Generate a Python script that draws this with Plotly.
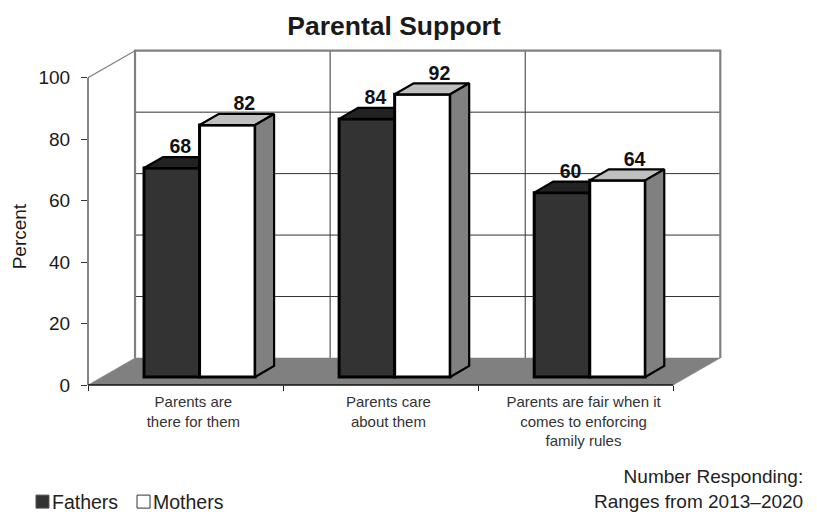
import numpy as np
import plotly.graph_objects as go

categories = ["Parents are<br>there for them", "Parents care<br>about them",
              "Parents are fair when it<br>comes to enforcing<br>family rules"]
fathers = [68, 84, 60]
mothers = [82, 92, 64]
y_ticks = [0, 20, 40, 60, 80, 100]
title = "Parental Support"
y_title = "Percent"
note = "Number Responding:<br>Ranges from 2013–2020"

W, H = 817, 512
FONT = "Liberation Sans"
PX_X, PX_Y = 195.0, 3.07          # pixels per category / per percent
LEFT, BOTTOM = 88, 385            # pixel position of the front axes corner
X0 = -0.5
XMAX = 2.76
YMAX = 110.0
WALL_DX, WALL_DY = 47 / PX_X, 27 / PX_Y
BASE_DX, BASE_DY = 14 / PX_X, 8 / PX_Y
DEPTH_DX, DEPTH_DY = 19 / PX_X, 11 / PX_Y
BAR_W = 55.5 / PX_X
F_OFF = -41.5 / PX_X
M_OFF = 14 / PX_X
GREY = "#808080"
GRID = "#333333"
pos = np.arange(len(categories), dtype=float)
ntop = pos[-1] + 0.5

fig = go.Figure()


def poly(xs, ys, fill, line, width, xa="x", ya="y"):
    fig.add_trace(go.Scatter(x=xs, y=ys, mode="lines", fill="toself", fillcolor=fill,
                             line=dict(color=line, width=width), hoverinfo="skip",
                             showlegend=False, xaxis=xa, yaxis=ya))


def seg(xs, ys, color, width):
    fig.add_trace(go.Scatter(x=xs, y=ys, mode="lines", line=dict(color=color, width=width),
                             hoverinfo="skip", showlegend=False, xaxis="x", yaxis="y"))


wl, wr = X0 + WALL_DX, ntop + WALL_DX
# inner grid on the back wall
for t in y_ticks[1:-1]:
    seg([wl, wr], [t + WALL_DY, t + WALL_DY], GRID, 1)
for b in pos[:-1] + 0.5:
    seg([b + WALL_DX, b + WALL_DX], [WALL_DY, 100 + WALL_DY], GRID, 1)
# wall frame and the diagonal on top of the side wall
seg([X0, wl, wl], [100, 100 + WALL_DY, WALL_DY], GREY, 1.2)
seg([wl, wl, wr, wr], [WALL_DY, 100 + WALL_DY, 100 + WALL_DY, WALL_DY], GREY, 2.2)
# floor
poly([X0, wl, wr, ntop, X0], [0, WALL_DY, WALL_DY, 0, 0], GREY, GREY, 0.5)


def series(name, vals, off, fill, top_fill, side_fill, xa, ya):
    vals = np.array(vals, dtype=float)
    fig.add_trace(go.Bar(name=name, x=pos, y=vals, base=BASE_DY, offset=off,
                         width=BAR_W, marker=dict(color=fill, line=dict(color="black", width=3)),
                         showlegend=False, xaxis=xa, yaxis=ya))
    for p, v in zip(pos, vals):
        l, r = p + off, p + off + BAR_W
        t = v + BASE_DY
        poly([l, r, r + DEPTH_DX, l + DEPTH_DX, l], [t, t, t + DEPTH_DY, t + DEPTH_DY, t],
             top_fill, "black", 2.2, xa, ya)
        poly([r, r + DEPTH_DX, r + DEPTH_DX, r, r],
             [BASE_DY, BASE_DY + DEPTH_DY, t + DEPTH_DY, t, BASE_DY],
             side_fill, "black", 2.2, xa, ya)


series("Fathers", fathers, F_OFF, "#333333", "#222222", GREY, "x2", "y2")
series("Mothers", mothers, M_OFF, "#ffffff", "#bfbfbf", GREY, "x3", "y3")

# value labels
for vals, off, extra in ((fathers, F_OFF, 8.5 / PX_X), (mothers, M_OFF, 17 / PX_X)):
    fig.add_trace(go.Scatter(x=pos + off + BAR_W / 2 + extra,
                             y=np.array(vals) + BASE_DY + DEPTH_DY - 0.4,
                             mode="text", text=[str(v) for v in vals], textposition="top center",
                             textfont=dict(family=FONT, size=19.5, color="#111111", weight="bold"),
                             hoverinfo="skip", showlegend=False, cliponaxis=False,
                             xaxis="x3", yaxis="y3"))

x_range = [X0, XMAX]
y_range = [0, YMAX]
plot_w = (XMAX - X0) * PX_X
plot_h = YMAX * PX_Y
hidden = dict(visible=False, fixedrange=True)

layout = dict(
    width=W, height=H, autosize=False,
    paper_bgcolor="white", plot_bgcolor="white",
    margin=dict(l=LEFT, r=W - LEFT - plot_w, t=BOTTOM - plot_h, b=H - BOTTOM, pad=0),
    showlegend=False, barmode="overlay",
    font=dict(family=FONT, color="#222222"),
    title=dict(text=title, x=394 / W, xanchor="center", y=1 - 26 / H, yanchor="middle",
               font=dict(family=FONT, size=26.5, color="#1a1a1a", weight="bold")),
    xaxis=dict(range=x_range, showgrid=False, zeroline=False, showline=False,
               tickmode="array", tickvals=pos + 0.04, ticktext=categories, ticks="",
               ticklabelstandoff=6,
               tickfont=dict(family=FONT, size=15, color="#333333"),
               minor=dict(tickmode="array", tickvals=list(pos - 0.5) + [ntop], ticks="outside",
                          ticklen=5, tickwidth=1, tickcolor="#222222", showgrid=False)),
    yaxis=dict(range=y_range, showgrid=False, zeroline=False, showline=False,
               tickmode="array", tickvals=y_ticks, ticks="outside", ticklen=6, tickwidth=1,
               tickcolor="#333333", ticklabelstandoff=7,
               tickfont=dict(family=FONT, size=19, color="#1a1a1a")),
    xaxis2=dict(range=x_range, overlaying="x", **hidden),
    yaxis2=dict(range=y_range, overlaying="y", **hidden),
    xaxis3=dict(range=x_range, overlaying="x", **hidden),
    yaxis3=dict(range=y_range, overlaying="y", **hidden),
    shapes=[
        dict(type="line", xref="paper", x0=0, x1=0, yref="y", y0=0, y1=100,
             line=dict(color="#333333", width=1.2)),
        dict(type="line", xref="x", x0=X0, x1=ntop, yref="paper", y0=0, y1=0,
             line=dict(color="#111111", width=1.5)),
        dict(type="rect", xref="paper", yref="paper", x0=(36 - LEFT) / plot_w, x1=(49 - LEFT) / plot_w,
             y0=(BOTTOM - 508) / plot_h, y1=(BOTTOM - 495) / plot_h,
             fillcolor="#333333", line=dict(color="#555555", width=1)),
        dict(type="rect", xref="paper", yref="paper", x0=(137 - LEFT) / plot_w, x1=(150 - LEFT) / plot_w,
             y0=(BOTTOM - 508) / plot_h, y1=(BOTTOM - 495) / plot_h,
             fillcolor="white", line=dict(color="#333333", width=1)),
    ],
    annotations=[
        dict(text=y_title, xref="paper", yref="paper", x=(19 - LEFT) / plot_w, y=(BOTTOM - 236.5) / plot_h,
             xanchor="center", yanchor="middle", textangle=-90, showarrow=False,
             font=dict(size=19, color="#1a1a1a")),
        dict(text="Fathers", xref="paper", yref="paper", x=(50 - LEFT) / plot_w, y=(BOTTOM - 502) / plot_h,
             xanchor="left", yanchor="middle", showarrow=False, font=dict(size=19.5, color="#222222")),
        dict(text="Mothers", xref="paper", yref="paper", x=(151 - LEFT) / plot_w, y=(BOTTOM - 502) / plot_h,
             xanchor="left", yanchor="middle", showarrow=False, font=dict(size=19.5, color="#222222")),
        dict(text=note, xref="paper", yref="paper", x=(805 - LEFT) / plot_w, y=(BOTTOM - 488.5) / plot_h,
             xanchor="right", yanchor="middle", align="right", showarrow=False,
             font=dict(size=19, color="#222222")),
    ],
)
fig.update_layout(**layout)
fig.write_html("out.html", config=dict(displayModeBar=False),
               post_script="document.body.style.margin='0';")
